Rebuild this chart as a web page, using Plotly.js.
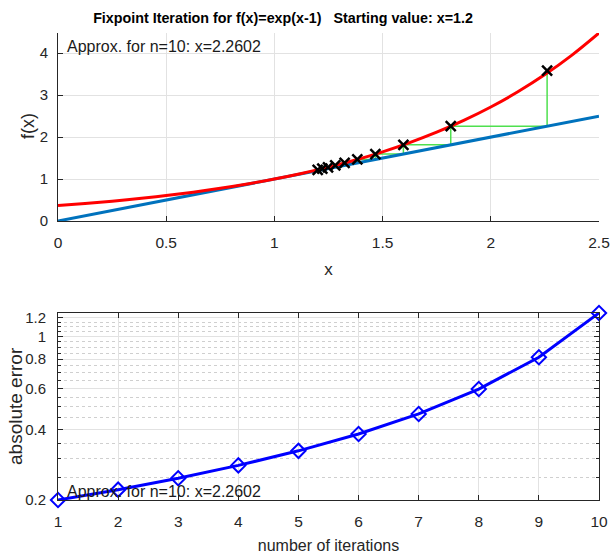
<!DOCTYPE html>
<html>
<head>
<meta charset="utf-8">
<script src="https://cdn.plot.ly/plotly-3.0.1.min.js"></script>
<style>html,body{margin:0;padding:0;background:#fff;}#chart{width:611px;height:554px;}</style>
</head>
<body>
<div id="chart"></div>
<script>
// Curve f(x)=exp(x-1), values
var curveX = [0, 0.125, 0.25, 0.375, 0.5, 0.625, 0.75, 0.875, 1, 1.125, 1.25, 1.375, 1.5, 1.625, 1.75, 1.875, 2, 2.125, 2.25, 2.375, 2.5];
var curveY = [0.368, 0.417, 0.472, 0.535, 0.607, 0.687, 0.779, 0.882, 1.0, 1.133, 1.284, 1.455, 1.649, 1.868, 2.117, 2.399, 2.718, 3.080, 3.490, 3.955, 4.482];
// identity line y = x
var lineX = [0, 2.5];
var lineY = [0, 2.5];
// iterates x_n and f(x_n)
var iterX = [1.2, 1.2214, 1.2478, 1.2812, 1.3245, 1.3831, 1.4666, 1.5961, 1.8149, 2.2602];
var iterF = [1.2214, 1.2478, 1.2812, 1.3245, 1.3831, 1.4666, 1.5961, 1.8149, 2.2602, 3.5855];
// error plot
var iterations = [1, 2, 3, 4, 5, 6, 7, 8, 9, 10];
var absError = [0.2, 0.2214, 0.2478, 0.2812, 0.3245, 0.3831, 0.4666, 0.5961, 0.8149, 1.2602];
var errTicks = [0.2, 0.4, 0.6, 0.8, 1, 1.2];
var errTickText = ['0.2', '0.4', '0.6', '0.8', '1', '1.2'];
var errMinor = [0.25, 0.3, 0.35, 0.45, 0.5, 0.55, 0.65, 0.7, 0.75, 0.85, 0.9, 0.95, 1.05, 1.1, 1.15, 1.25];
var xTicksTop = [0, 0.5, 1, 1.5, 2, 2.5];
var xTickTextTop = ['0', '0.5', '1', '1.5', '2', '2.5'];
var yTicksTop = [0, 1, 2, 3, 4];
var approxText = 'Approx. for n=10: x=2.2602';

// cobweb path built from the iterates
var webX = [], webY = [];
for (var i = 0; i < iterX.length; i++) {
  webX.push(iterX[i], iterX[i]);
  webY.push(iterX[i], iterF[i]);
}

var FONT = 'Liberation Sans, Arial, sans-serif';
var TICKC = '#262626';

var traces = [
  {x: webX, y: webY, mode: 'lines', line: {color: '#4fe04f', width: 1.5}, xaxis: 'x', yaxis: 'y', hoverinfo: 'skip'},
  {x: lineX, y: lineY, mode: 'lines', line: {color: '#0072BD', width: 3}, xaxis: 'x', yaxis: 'y'},
  {x: curveX, y: curveY, mode: 'lines', line: {color: '#ff0000', width: 3, shape: 'spline'}, xaxis: 'x', yaxis: 'y'},
  {x: iterX, y: iterF, mode: 'markers', marker: {symbol: 'x-thin-open', size: 10, color: '#000', line: {color: '#000', width: 2.5}}, xaxis: 'x', yaxis: 'y'},
  {x: iterations, y: absError, mode: 'lines+markers', line: {color: '#0000ff', width: 3},
   marker: {symbol: 'diamond-open', size: 11, color: '#0000ff', line: {color: '#0000ff', width: 2}}, xaxis: 'x2', yaxis: 'y2', cliponaxis: false}
];

var layout = {
  width: 611, height: 554,
  margin: {l: 0, r: 0, t: 0, b: 0},
  paper_bgcolor: '#fff', plot_bgcolor: '#fff',
  showlegend: false,
  font: {family: FONT, size: 15, color: TICKC},
  title: {text: '<b>Fixpoint Iteration for f(x)=exp(x-1)   Starting value: x=1.2</b>', x: 283/611, xanchor: 'center', y: 1 - 18/554, yanchor: 'middle', font: {family: FONT, size: 14.3, color: '#000'}},
  xaxis: {
    domain: [58/611, 599/611], anchor: 'y', range: [0, 2.5],
    tickvals: xTicksTop, ticktext: xTickTextTop,
    ticks: 'inside', ticklen: 5, tickcolor: '#262626',
    showline: true, linecolor: '#262626', linewidth: 1,
    showgrid: true, gridcolor: '#e2e2e2', zeroline: false,
    tickfont: {size: 15.5, color: TICKC}, ticklabelstandoff: 7,
    title: {text: 'x', font: {size: 17, color: TICKC}, standoff: 13}
  },
  yaxis: {
    domain: [1 - 221/554, 1 - 33/554], anchor: 'x', range: [0, 4.4817],
    tickvals: yTicksTop,
    ticks: 'inside', ticklen: 5, tickcolor: '#262626',
    showline: true, linecolor: '#262626', linewidth: 1,
    showgrid: true, gridcolor: '#e2e2e2', zeroline: false,
    tickfont: {size: 15, color: TICKC}, ticklabelstandoff: 6
  },
  xaxis2: {
    domain: [58/611, 599/611], anchor: 'y2', range: [1, 10],
    tickvals: iterations,
    ticks: 'inside', ticklen: 5, tickcolor: '#262626',
    showline: true, linecolor: '#262626', linewidth: 1, mirror: 'ticks',
    showgrid: true, gridcolor: '#e2e2e2', zeroline: false,
    tickfont: {size: 15.5, color: TICKC}, ticklabelstandoff: 7,
    title: {text: 'number of iterations', font: {size: 16, color: TICKC}, standoff: 13}
  },
  yaxis2: {
    domain: [1 - 500/554, 1 - 313/554], anchor: 'x2', type: 'log',
    range: [Math.log10(0.2), Math.log10(1.2602)],
    tickvals: errTicks, ticktext: errTickText,
    ticks: 'inside', ticklen: 5, tickcolor: '#262626',
    showline: true, linecolor: '#262626', linewidth: 1, mirror: 'ticks',
    showgrid: true, gridcolor: '#e2e2e2', zeroline: false,
    minor: {tickmode: 'array', tickvals: errMinor, ticks: 'inside', ticklen: 3, tickcolor: '#262626', showgrid: true, gridcolor: '#cfcfcf', griddash: 'dot', gridwidth: 1},
    tickfont: {size: 15, color: TICKC}, ticklabelstandoff: 8
  },
  annotations: [
    {text: approxText, x: 0.032, y: 4.17, xref: 'x', yref: 'y', xanchor: 'left', yanchor: 'middle', showarrow: false, font: {family: FONT, size: 16, color: '#1a1a1a'}},
    {text: approxText, x: 1.116, y: Math.log10(0.2184), xref: 'x2', yref: 'y2', xanchor: 'left', yanchor: 'middle', showarrow: false, font: {family: FONT, size: 16, color: '#1a1a1a'}},
    {text: 'f(x)', textangle: -90, x: 28/611, y: 1 - 126/554, xref: 'paper', yref: 'paper', xanchor: 'center', yanchor: 'middle', showarrow: false, font: {family: FONT, size: 18, color: TICKC}},
    {text: 'absolute error', textangle: -90, x: 15/611, y: 1 - 406/554, xref: 'paper', yref: 'paper', xanchor: 'center', yanchor: 'middle', showarrow: false, font: {family: FONT, size: 19, color: TICKC}}
  ]
};

Plotly.newPlot('chart', traces, layout, {displayModeBar: false, staticPlot: true});
</script>
</body>
</html>
